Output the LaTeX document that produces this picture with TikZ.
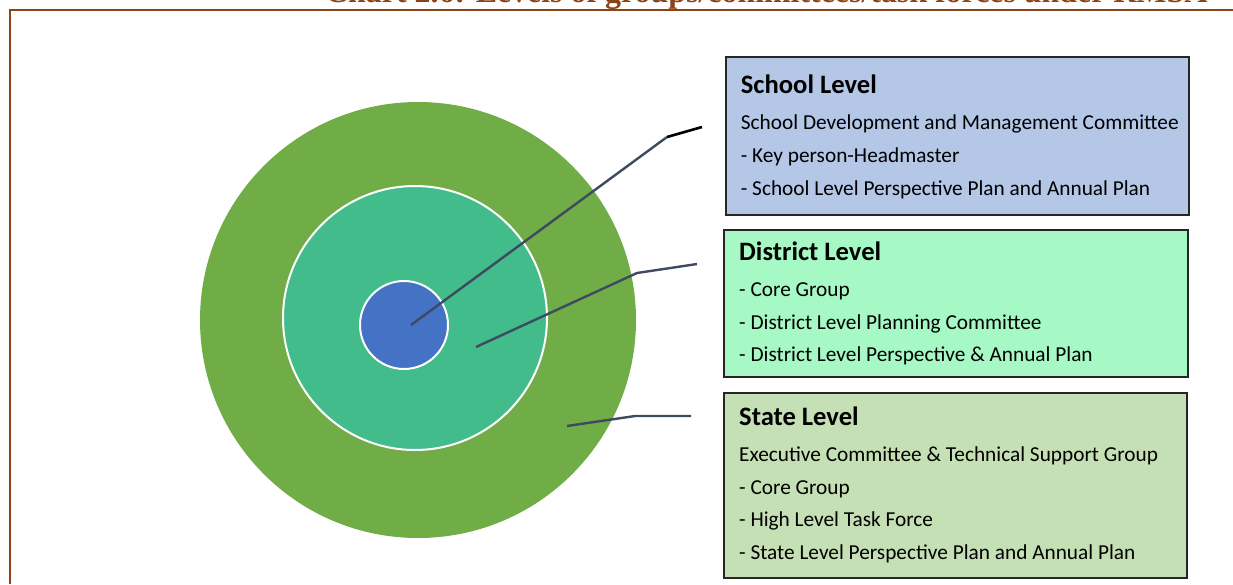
\documentclass[tikz,border=0pt]{standalone}
\usepackage{fontspec}
\setmainfont{Carlito}
\newfontfamily\chartfont{Liberation Serif}

\definecolor{framebrown}{RGB}{140,68,22}
\definecolor{stategreen}{RGB}{112,173,71}
\definecolor{districtteal}{RGB}{67,188,140}
\definecolor{schoolblue}{RGB}{68,114,196}
\definecolor{leader}{RGB}{62,74,96}
\definecolor{schoolfill}{RGB}{180,199,231}
\definecolor{districtfill}{RGB}{166,249,196}
\definecolor{statefill}{RGB}{197,224,180}

\begin{document}
\begin{tikzpicture}
  [x=1pt,y=-1pt,
   ring/.style={circle,inner sep=0pt},
   levelbox/.style={draw=black!85,line width=1.6pt,anchor=north west,inner sep=0pt},
   textlist/.style={anchor=north west,inner sep=0pt,row sep=11.8pt,
     nodes={anchor=base west,inner sep=0pt,text height=16pt,text depth=5pt,
       font=\fontsize{21.3}{25}\selectfont}},
   head/.style={text height=20pt,text depth=8.2pt,
     font=\fontsize{26.6}{30}\selectfont\bfseries},
   leaderline/.style={draw=leader,line width=2.4pt}]

  \clip (0,0) rectangle (1233,584);

  % heading cut by the page edge
  \node [anchor=base west,inner sep=0pt,text=framebrown,
    font=\chartfont\fontsize{31.9}{36}\selectfont\bfseries] (title) at (325,2.5)
    {Chart 2.6: Levels of groups/committees/task forces under RMSA};
  \draw [framebrown,line width=2pt] (10,584) -- (10,10) -- (1233,10);

  % the three levels
  \node [ring,fill=stategreen,minimum size=436pt] (statering) at (418,320) {};
  \node [ring,fill=districtteal,draw=white,line width=2pt,minimum size=264pt] (districtring) at (415,318) {};
  \node [ring,fill=schoolblue,draw=white,line width=2pt,minimum size=88pt] (schoolring) at (404,325) {};

  % boxes
  \node [levelbox,fill=schoolfill,minimum width=463pt,minimum height=158pt] (school) at (725,56) {};
  \node [levelbox,fill=districtfill,minimum width=464pt,minimum height=147pt] (district) at (723,229) {};
  \node [levelbox,fill=statefill,minimum width=463pt,minimum height=185pt] (state) at (723,392) {};

  \matrix (schooltext) [textlist] at ([shift={(15.7,17.3)}]school.north west)
  {
    \node [head] {School Level}; \\
    \node {School Development and Management Committee}; \\
    \node {- Key person-Headmaster}; \\
    \node {- School Level Perspective Plan and Annual Plan}; \\
  };

  \matrix (districttext) [textlist] at ([shift={(16,11)}]district.north west)
  {
    \node [head] {District Level}; \\
    \node {- Core Group}; \\
    \node {- District Level Planning Committee}; \\
    \node {- District Level Perspective \& Annual Plan}; \\
  };

  \matrix (statetext) [textlist] at ([shift={(16,13)}]state.north west)
  {
    \node [head] {State Level}; \\
    \node {Executive Committee \& Technical Support Group}; \\
    \node {- Core Group}; \\
    \node {- High Level Task Force}; \\
    \node {- State Level Perspective Plan and Annual Plan}; \\
  };

  % leader lines
  \coordinate (schoolpin) at (411,325);
  \coordinate (schoolbend) at (667,137);
  \coordinate (schoolend) at (702,127);
  \coordinate (districtpin) at (476,347);
  \coordinate (districtbend) at (637,273);
  \coordinate (districtend) at (697,264);
  \coordinate (statepin) at (567,426);
  \coordinate (statebend) at (635,416);
  \coordinate (stateend) at (691,416);

  \draw [leaderline] (schoolpin) -- (schoolbend);
  \draw [line width=2.6pt] (schoolbend) -- (schoolend);
  \draw [leaderline] (districtpin) -- (districtbend) -- (districtend);
  \draw [leaderline] (statepin) -- (statebend) -- (stateend);
\end{tikzpicture}
\end{document}
